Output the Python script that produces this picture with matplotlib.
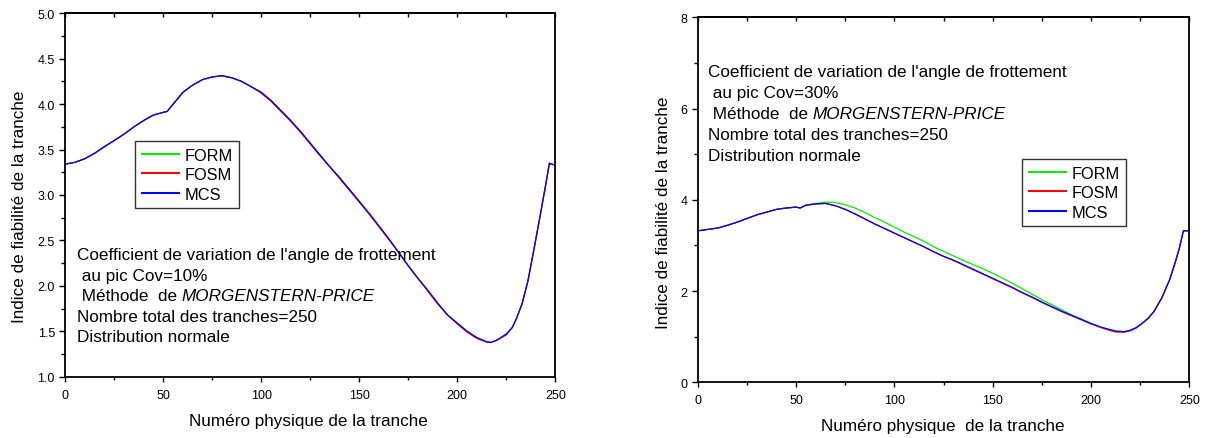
import matplotlib
matplotlib.use("Agg")
import matplotlib.pyplot as plt
from matplotlib.ticker import MultipleLocator

plt.rcParams['font.family'] = ['Liberation Sans', 'DejaVu Sans']

# ---- Left panel: Cov = 10 % ----
x_left = [0, 5, 10, 15, 20, 25, 30, 35, 40, 43, 45, 50, 52, 55, 60, 65, 70, 75, 80,
          85, 90, 95, 100, 105, 110, 115, 120, 125, 130, 135, 140, 145, 150, 155,
          160, 165, 170, 175, 180, 185, 190, 195, 200, 205, 210, 215, 217, 220,
          225, 228, 230, 233, 236, 239, 242, 245, 247, 248, 250]
form_left = [3.34, 3.36, 3.40, 3.46, 3.53, 3.60, 3.67, 3.75, 3.82, 3.86, 3.88, 3.91,
             3.92, 4.00, 4.13, 4.21, 4.27, 4.30, 4.31, 4.29, 4.25, 4.19, 4.13, 4.04,
             3.93, 3.82, 3.70, 3.57, 3.44, 3.31, 3.19, 3.06, 2.93, 2.79, 2.66, 2.52,
             2.37, 2.22, 2.08, 1.95, 1.81, 1.68, 1.59, 1.50, 1.43, 1.385, 1.378,
             1.40, 1.47, 1.54, 1.63, 1.80, 2.05, 2.39, 2.74, 3.10, 3.35, 3.34, 3.33]
fosm_left = [3.34, 3.36, 3.40, 3.46, 3.53, 3.60, 3.67, 3.75, 3.82, 3.86, 3.88, 3.91,
             3.92, 4.00, 4.13, 4.21, 4.27, 4.30, 4.31, 4.29, 4.25, 4.19, 4.12, 4.03,
             3.92, 3.81, 3.69, 3.56, 3.43, 3.31, 3.18, 3.05, 2.92, 2.79, 2.65, 2.51,
             2.37, 2.22, 2.08, 1.94, 1.80, 1.68, 1.58, 1.49, 1.42, 1.38, 1.375,
             1.40, 1.46, 1.54, 1.63, 1.80, 2.05, 2.39, 2.74, 3.10, 3.35, 3.34, 3.33]
mcs_left = [3.34, 3.36, 3.40, 3.46, 3.535, 3.60, 3.67, 3.75, 3.82, 3.855, 3.88, 3.91,
            3.92, 4.00, 4.13, 4.21, 4.27, 4.30, 4.315, 4.29, 4.25, 4.19, 4.13, 4.04,
            3.93, 3.82, 3.70, 3.57, 3.44, 3.31, 3.19, 3.06, 2.93, 2.80, 2.66, 2.52,
            2.37, 2.22, 2.08, 1.95, 1.81, 1.68, 1.59, 1.50, 1.43, 1.385, 1.378,
            1.40, 1.47, 1.54, 1.63, 1.80, 2.05, 2.39, 2.74, 3.10, 3.35, 3.34, 3.33]

# ---- Right panel: Cov = 30 % ----
x_right = [0, 5, 10, 15, 20, 25, 30, 35, 40, 45, 50, 52, 55, 60, 65, 70, 75, 80, 85,
           90, 95, 100, 105, 110, 115, 120, 125, 130, 135, 140, 145, 150, 155, 160,
           165, 170, 175, 180, 185, 190, 195, 200, 205, 210, 213, 217, 220, 223,
           226, 229, 232, 236, 240, 243, 245, 247, 248, 250]
form_right = [3.32, 3.35, 3.38, 3.44, 3.51, 3.59, 3.67, 3.73, 3.79, 3.82, 3.84, 3.82,
              3.89, 3.92, 3.95, 3.94, 3.89, 3.82, 3.72, 3.61, 3.51, 3.40, 3.29, 3.19,
              3.09, 2.97, 2.87, 2.77, 2.67, 2.58, 2.49, 2.39, 2.28, 2.17, 2.05, 1.93,
              1.81, 1.70, 1.59, 1.48, 1.39, 1.29, 1.21, 1.15, 1.12, 1.11, 1.14, 1.20,
              1.29, 1.40, 1.55, 1.85, 2.25, 2.65, 2.95, 3.32, 3.32, 3.32]
fosm_right = [3.32, 3.35, 3.38, 3.44, 3.51, 3.59, 3.67, 3.73, 3.79, 3.82, 3.84, 3.82,
              3.88, 3.91, 3.92, 3.87, 3.79, 3.69, 3.58, 3.47, 3.37, 3.27, 3.17, 3.07,
              2.97, 2.86, 2.76, 2.67, 2.57, 2.47, 2.37, 2.27, 2.17, 2.07, 1.96, 1.86,
              1.75, 1.65, 1.55, 1.46, 1.37, 1.28, 1.20, 1.13, 1.10, 1.10, 1.13, 1.19,
              1.29, 1.40, 1.55, 1.85, 2.25, 2.65, 2.95, 3.32, 3.32, 3.32]
mcs_right = [3.32, 3.35, 3.38, 3.44, 3.51, 3.59, 3.67, 3.73, 3.79, 3.82, 3.84, 3.82,
             3.88, 3.91, 3.92, 3.87, 3.79, 3.69, 3.58, 3.47, 3.37, 3.27, 3.17, 3.07,
             2.97, 2.86, 2.76, 2.68, 2.58, 2.48, 2.38, 2.28, 2.18, 2.08, 1.97, 1.87,
             1.76, 1.66, 1.56, 1.47, 1.38, 1.29, 1.21, 1.15, 1.12, 1.11, 1.14, 1.20,
             1.29, 1.40, 1.55, 1.85, 2.25, 2.65, 2.95, 3.32, 3.32, 3.32]

series_names = ["FORM", "FOSM", "MCS"]
series_colors = ["#00ee00", "#ff0000", "#0000ff"]

xlabel_left = "Numéro physique de la tranche"
xlabel_right = "Numéro physique  de la tranche"
ylabel = "Indice de fiabilité de la tranche"

info_left = ["Coefficient de variation de l'angle de frottement",
             " au pic Cov=10%",
             " Méthode  de ",
             "Nombre total des tranches=250",
             "Distribution normale"]
info_right = ["Coefficient de variation de l'angle de frottement",
              " au pic Cov=30%",
              " Méthode  de ",
              "Nombre total des tranches=250",
              "Distribution normale"]
method_name = "MORGENSTERN-PRICE"

FS = 12.3
TICK_FS = 9

fig = plt.figure(figsize=(12.12, 4.39), dpi=100)
W, H = 1212, 439


def make_axes(x0, x1, ytop, ybot):
    return fig.add_axes([x0 / W, 1 - ybot / H, (x1 - x0) / W, (ybot - ytop) / H])


ax1 = make_axes(65.3, 555.3, 14.3, 377.7)
ax2 = make_axes(697.8, 1189.3, 18.3, 383.3)


def style_axes(ax, ymin, ymax, ymajor, yminor, yfmt):
    ax.set_xlim(0, 250)
    ax.set_ylim(ymin, ymax)
    ax.xaxis.set_major_locator(MultipleLocator(50))
    ax.xaxis.set_minor_locator(MultipleLocator(25))
    ax.yaxis.set_major_locator(MultipleLocator(ymajor))
    ax.yaxis.set_minor_locator(MultipleLocator(yminor))
    ax.yaxis.set_major_formatter(yfmt)
    for s in ax.spines.values():
        s.set_linewidth(1.3)
    ax.tick_params(axis='both', which='both', direction='out', width=1.0,
                   labelsize=TICK_FS, top=False, right=False)
    ax.tick_params(axis='x', which='major', length=3.5, pad=5)
    ax.tick_params(axis='x', which='minor', length=2.5)
    ax.tick_params(axis='y', which='major', length=4.5, pad=3)
    ax.tick_params(axis='y', which='minor', length=3)
    # short inward ticks along the top edge
    top = ax.secondary_xaxis('top')
    top.xaxis.set_major_locator(MultipleLocator(50))
    top.xaxis.set_minor_locator(MultipleLocator(25))
    top.tick_params(which='both', direction='in', length=3, width=1.0,
                    labeltop=False)
    top.spines['top'].set_linewidth(1.3)


style_axes(ax1, 1.0, 5.0, 0.5, 0.25, "{x:.1f}")
style_axes(ax2, 0, 8, 2, 1, "{x:.0f}")

for ax, xs, ys in ((ax1, x_left, (form_left, fosm_left, mcs_left)),
                   (ax2, x_right, (form_right, fosm_right, mcs_right))):
    for name, col, y in zip(series_names, series_colors, ys):
        ax.plot(xs, y, color=col, lw=0.9, label=name)


def add_legend(ax, x, y):
    leg = ax.legend(loc='upper left', bbox_to_anchor=(x, y), borderaxespad=0,
                    fontsize=11.8, frameon=True, fancybox=False, framealpha=1,
                    edgecolor='#333333', handlelength=2.3, handletextpad=0.3,
                    labelspacing=0.28, borderpad=0.4)
    leg.get_frame().set_linewidth(1.0)
    for line in leg.get_lines():
        line.set_linewidth(1.5)


add_legend(ax1, (135 - 65.3) / 490, (377.7 - 142) / 363.4)
add_legend(ax2, (1022 - 697.8) / 491.5, (383.3 - 160) / 365)


def add_info(ax, lines, x_px, y_centers, ax_x0, ax_w, ax_ybot, ax_h):
    for i, (txt, yc) in enumerate(zip(lines, y_centers)):
        t = ax.text((x_px - ax_x0) / ax_w, (ax_ybot - yc) / ax_h, txt,
                    transform=ax.transAxes, fontsize=FS, ha='left',
                    va='center_baseline')
        if i == 2:
            ax.annotate(method_name, xy=(1, 0), xycoords=t, fontsize=FS,
                        style='italic', ha='left', va='bottom')


add_info(ax1, info_left, 77, [254, 275, 295.5, 316, 336.5], 65.3, 490, 377.7, 363.4)
add_info(ax2, info_right, 708, [71, 92, 113, 134, 155], 697.8, 491.5, 383.3, 365)

# axis titles
ax1.set_xlabel(xlabel_left, fontsize=FS)
ax1.xaxis.set_label_coords((308 - 65.3) / 490, (377.7 - 421.7) / 363.4)
ax1.xaxis.label.set_va('center')
ax1.set_ylabel(ylabel, fontsize=FS)
ax1.yaxis.set_label_coords((19 - 65.3) / 490, (377.7 - 207) / 363.4)
ax1.yaxis.label.set_va('center')

ax2.set_xlabel(xlabel_right, fontsize=FS)
ax2.xaxis.set_label_coords((943 - 697.8) / 491.5, (383.3 - 426.7) / 365)
ax2.xaxis.label.set_va('center')
ax2.set_ylabel(ylabel, fontsize=FS)
ax2.yaxis.set_label_coords((664 - 697.8) / 491.5, (383.3 - 213) / 365)
ax2.yaxis.label.set_va('center')

fig.savefig("out.png", dpi=100)
